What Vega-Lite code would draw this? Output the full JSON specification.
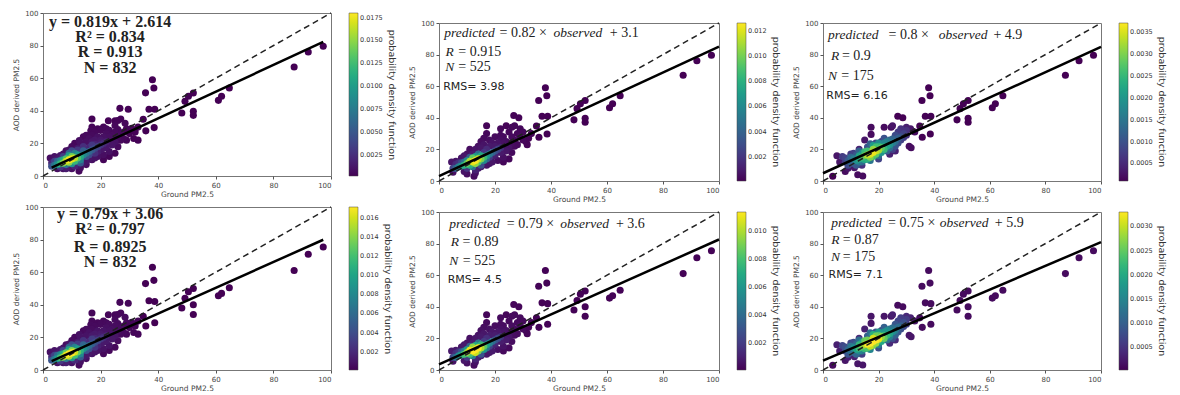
{
 "$schema": "https://vega.github.io/schema/vega-lite/v6.json",
 "padding": {"left": 12, "top": 8, "right": 0, "bottom": 0},
 "background": "white",
 "config": {
  "view": {"stroke": "#777", "strokeWidth": 1},
  "axis": {"grid": false, "domain": false, "tickSize": 3, "tickColor": "#555", "labelFont": "DejaVu Sans", "labelFontSize": 7, "labelColor": "#444", "labelPadding": 2, "titleFont": "DejaVu Sans", "titleFontSize": 7.5, "titleFontWeight": "normal", "titleColor": "#444", "titlePadding": 4},
  "axisX": {"titlePadding": 2},
  "legend": {"gradientThickness": 9, "offset": 18, "labelFont": "DejaVu Sans", "labelFontSize": 6.5, "labelColor": "#333", "labelOverlap": false, "titleFont": "DejaVu Sans", "titleFontSize": 9.5, "titleFontWeight": "normal", "titleColor": "#333", "titleOrient": "right", "titleAngle": 270, "titleAnchor": "middle", "titlePadding": 4, "gradientStrokeColor": "#444", "gradientStrokeWidth": 0.5}
 },
 "datasets": {
  "c1": [
   {"x":9,"y":10,"d":0.0178},{"x":10,"y":10.5,"d":0.0172},{"x":8,"y":9,"d":0.0165},{"x":11,"y":11,"d":0.016},{"x":9,"y":8.5,"d":0.015},{"x":7,"y":8,"d":0.0145},{"x":10,"y":12,"d":0.014},{"x":12,"y":11,"d":0.013},{"x":8,"y":10.5,"d":0.013},{"x":11,"y":9,"d":0.012},{"x":6,"y":7.5,"d":0.012},{"x":13,"y":12,"d":0.011},{"x":7,"y":10,"d":0.0105},{"x":9,"y":12.5,"d":0.01},{"x":12,"y":13,"d":0.0095},{"x":5,"y":7,"d":0.009},{"x":10,"y":7.5,"d":0.009},{"x":14,"y":13,"d":0.0085},{"x":6,"y":9.5,"d":0.008},{"x":13,"y":10,"d":0.008},{"x":11,"y":14,"d":0.0075},{"x":15,"y":14,"d":0.007},{"x":4,"y":6.5,"d":0.007},{"x":8,"y":7,"d":0.007},{"x":12,"y":9,"d":0.0065},{"x":16,"y":15,"d":0.006},{"x":5,"y":9,"d":0.006},{"x":14,"y":15.5,"d":0.0055},{"x":9,"y":14,"d":0.0055},{"x":13,"y":8,"d":0.005},{"x":17,"y":16,"d":0.005},{"x":3,"y":6,"d":0.0045},{"x":15,"y":12,"d":0.0045},{"x":18,"y":17,"d":0.004},{"x":10,"y":15.5,"d":0.004},{"x":16,"y":13,"d":0.004},{"x":4,"y":9,"d":0.0035},{"x":19,"y":18,"d":0.0035},{"x":7,"y":12,"d":0.0035},{"x":12,"y":16,"d":0.003},{"x":17,"y":19,"d":0.003},{"x":20,"y":19,"d":0.0028},{"x":6,"y":5.5,"d":0.0028},{"x":18,"y":14,"d":0.0025},{"x":14,"y":18,"d":0.0025},{"x":21,"y":20,"d":0.0022},{"x":3,"y":8,"d":0.002},{"x":11,"y":6,"d":0.002},{"x":16,"y":17.5,"d":0.002},{"x":22,"y":21,"d":0.0018},{"x":8,"y":4.5,"d":0.0015},{"x":19,"y":15,"d":0.0015},{"x":13,"y":16,"d":0.0025},{"x":18,"y":19.5,"d":0.0018},{"x":20,"y":20.5,"d":0.0015},{"x":5,"y":10,"d":0.0015},
   {"x":2.5,"y":11,"d":0.0008},{"x":4,"y":12,"d":0.001},{"x":6,"y":12.5,"d":0.0012},{"x":5,"y":4.5,"d":0.0008},{"x":10,"y":4.5,"d":0.0008},{"x":12.5,"y":3,"d":0.0005},{"x":13,"y":5,"d":0.0008},{"x":12,"y":17,"d":0.0012},{"x":9,"y":16,"d":0.001},{"x":13,"y":20,"d":0.0009},{"x":12.6,"y":21.7,"d":0.0008},{"x":15,"y":25,"d":0.0006},{"x":16.6,"y":27.8,"d":0.0005},{"x":17,"y":30,"d":0.0004},{"x":17,"y":35,"d":0.0003},{"x":18,"y":22,"d":0.0012},{"x":19,"y":24,"d":0.0009},{"x":20,"y":22,"d":0.0012},{"x":21,"y":24,"d":0.0009},{"x":22,"y":26,"d":0.0007},{"x":23,"y":28,"d":0.0006},{"x":24,"y":22,"d":0.0009},{"x":20,"y":16,"d":0.0012},{"x":18,"y":11,"d":0.001},{"x":21,"y":13,"d":0.0008},{"x":23,"y":15,"d":0.0009},{"x":24,"y":19,"d":0.0011},{"x":25,"y":21,"d":0.001},{"x":26,"y":24,"d":0.0007},{"x":25,"y":14,"d":0.0004},{"x":27,"y":26,"d":0.0006},{"x":28.5,"y":32.4,"d":0.0005},{"x":29,"y":29,"d":0.0004},{"x":27,"y":35,"d":0.0004},{"x":26.7,"y":41.5,"d":0.0003},{"x":29.6,"y":41,"d":0.0003},{"x":26,"y":34,"d":0.0004},{"x":25,"y":31,"d":0.0005},{"x":30.8,"y":29.3,"d":0.0004},{"x":31.5,"y":23,"d":0.0003},{"x":33,"y":22,"d":0.0003},{"x":33,"y":30,"d":0.0003},{"x":22.7,"y":33.9,"d":0.0003},{"x":25,"y":33.9,"d":0.0003},{"x":20,"y":28,"d":0.0005},{"x":15,"y":9,"d":0.0012},{"x":17,"y":10,"d":0.0009},{"x":26,"y":18,"d":0.0006},{"x":28,"y":23,"d":0.0005},{"x":29,"y":22,"d":0.0004},
   {"x":7,"y":13.5,"d":0.0009},{"x":8,"y":15.5,"d":0.0007},{"x":10,"y":18,"d":0.0006},{"x":11,"y":20,"d":0.0005},{"x":14,"y":24,"d":0.0005},{"x":15,"y":21,"d":0.0009},{"x":16,"y":23,"d":0.0008},{"x":17,"y":25,"d":0.0006},{"x":18,"y":27,"d":0.0005},{"x":19,"y":29,"d":0.0004},{"x":21,"y":30,"d":0.0004},{"x":22,"y":29,"d":0.0005},{"x":23,"y":24,"d":0.0008},{"x":22,"y":18,"d":0.0012},{"x":19,"y":12,"d":0.0009},{"x":16,"y":10.5,"d":0.0011},{"x":14,"y":8,"d":0.0012},{"x":12,"y":6.5,"d":0.0012},{"x":15,"y":7,"d":0.0007},{"x":9,"y":5.5,"d":0.0012},{"x":7,"y":4.5,"d":0.0009},{"x":24,"y":25,"d":0.0007},{"x":25,"y":27,"d":0.0006},{"x":26,"y":28.5,"d":0.0005},{"x":27,"y":22,"d":0.0005},{"x":28,"y":27,"d":0.0004},{"x":30,"y":26,"d":0.0003},{"x":32,"y":27,"d":0.0003},{"x":23,"y":12,"d":0.0004},{"x":21,"y":10,"d":0.0004},{"x":17,"y":21,"d":0.0012},{"x":21,"y":17,"d":0.0012}
  ],
  "c2": [
   {"x":13,"y":13,"d":0.0125},{"x":12,"y":12,"d":0.012},{"x":14,"y":14,"d":0.0115},{"x":11,"y":12.5,"d":0.011},{"x":13,"y":11,"d":0.0105},{"x":15,"y":14,"d":0.01},{"x":10,"y":11,"d":0.0095},{"x":12,"y":14.5,"d":0.0095},{"x":14,"y":12,"d":0.009},{"x":16,"y":15,"d":0.0085},{"x":9,"y":10,"d":0.008},{"x":11,"y":10,"d":0.008},{"x":15,"y":16,"d":0.0075},{"x":13,"y":15.5,"d":0.007},{"x":17,"y":16,"d":0.0065},{"x":8,"y":9.5,"d":0.0065},{"x":10,"y":13,"d":0.006},{"x":16,"y":13,"d":0.006},{"x":7,"y":9,"d":0.0055},{"x":18,"y":17,"d":0.005},{"x":12,"y":9,"d":0.005},{"x":14,"y":17,"d":0.0045},{"x":9,"y":12,"d":0.0045},{"x":19,"y":18,"d":0.004},{"x":6,"y":8,"d":0.004},{"x":17,"y":14,"d":0.004},{"x":11,"y":15,"d":0.0035},{"x":20,"y":19,"d":0.003},{"x":8,"y":11.5,"d":0.003},{"x":15,"y":10,"d":0.003},{"x":5,"y":8,"d":0.0025},{"x":21,"y":20,"d":0.0025},{"x":18,"y":15,"d":0.0022},{"x":16,"y":18,"d":0.002},{"x":10,"y":8,"d":0.002},{"x":22,"y":21,"d":0.0018},{"x":6,"y":10.5,"d":0.0015},{"x":13,"y":7,"d":0.0012},{"x":19,"y":16,"d":0.0012},{"x":17,"y":20,"d":0.0015},{"x":20,"y":17,"d":0.0012},{"x":7,"y":11.5,"d":0.0018},
   {"x":4.5,"y":12,"d":0.0008},{"x":6,"y":12.5,"d":0.0008},{"x":5,"y":5.5,"d":0.0006},{"x":10,"y":4.5,"d":0.0005},{"x":12.5,"y":3,"d":0.0004},{"x":13,"y":5,"d":0.0006},{"x":12,"y":17,"d":0.0009},{"x":9,"y":16,"d":0.0008},{"x":13,"y":20,"d":0.0007},{"x":14,"y":22,"d":0.0006},{"x":15,"y":25,"d":0.0005},{"x":16,"y":27,"d":0.0004},{"x":17,"y":30,"d":0.0003},{"x":17,"y":35,"d":0.0002},{"x":18,"y":22,"d":0.0009},{"x":19,"y":24,"d":0.0007},{"x":20,"y":22,"d":0.0009},{"x":21,"y":24,"d":0.0007},{"x":22,"y":26,"d":0.0005},{"x":23,"y":28,"d":0.0004},{"x":24,"y":22,"d":0.0007},{"x":20,"y":16,"d":0.0009},{"x":18,"y":11,"d":0.0007},{"x":21,"y":13,"d":0.0005},{"x":23,"y":15,"d":0.0006},{"x":24,"y":19,"d":0.0008},{"x":25,"y":21,"d":0.0007},{"x":26,"y":24,"d":0.0005},{"x":25,"y":14,"d":0.0003},{"x":27,"y":26,"d":0.0004},{"x":28,"y":30,"d":0.0003},{"x":29,"y":33,"d":0.0003},{"x":27,"y":35,"d":0.0003},{"x":26.7,"y":41.5,"d":0.0002},{"x":28.5,"y":40,"d":0.0002},{"x":26,"y":34,"d":0.0003},{"x":25,"y":31,"d":0.0003},{"x":30,"y":31,"d":0.0003},{"x":29,"y":28,"d":0.0004},{"x":31,"y":25,"d":0.0002},{"x":31.5,"y":23,"d":0.0002},{"x":33,"y":30,"d":0.0002},{"x":24,"y":35,"d":0.0002},{"x":22,"y":33,"d":0.0003},{"x":20,"y":28,"d":0.0004},{"x":15,"y":9,"d":0.001},{"x":17,"y":10,"d":0.0007},{"x":26,"y":18,"d":0.0004},{"x":28,"y":23,"d":0.0004},
   {"x":8,"y":14.5,"d":0.0007},{"x":10,"y":17,"d":0.0006},{"x":11,"y":20,"d":0.0005},{"x":15,"y":21,"d":0.0008},{"x":16,"y":23,"d":0.0007},{"x":18,"y":26,"d":0.0005},{"x":22,"y":29,"d":0.0004},{"x":23,"y":24,"d":0.0006},{"x":22,"y":18,"d":0.0009},{"x":19,"y":12,"d":0.0008},{"x":14,"y":8,"d":0.0009},{"x":9,"y":6,"d":0.0007},{"x":24,"y":25,"d":0.0005},{"x":26,"y":28,"d":0.0004},{"x":27,"y":22,"d":0.0004},{"x":30,"y":26,"d":0.0003},{"x":32,"y":27,"d":0.0002},{"x":23,"y":12,"d":0.0003}
  ],
  "c3": [
   {"x":18,"y":18,"d":0.0036},{"x":17,"y":17,"d":0.0035},{"x":19,"y":19,"d":0.0034},{"x":16,"y":16.5,"d":0.0033},{"x":20,"y":19.5,"d":0.0032},{"x":18,"y":20,"d":0.0031},{"x":17,"y":15,"d":0.003},{"x":15,"y":16,"d":0.0029},{"x":21,"y":21,"d":0.0028},{"x":19,"y":17,"d":0.0028},{"x":14,"y":15,"d":0.0026},{"x":16,"y":19,"d":0.0026},{"x":22,"y":20,"d":0.0025},{"x":20,"y":22,"d":0.0024},{"x":13,"y":14,"d":0.0023},{"x":15,"y":13.5,"d":0.0022},{"x":23,"y":22,"d":0.0022},{"x":18,"y":22.5,"d":0.0021},{"x":21,"y":18,"d":0.002},{"x":12,"y":13,"d":0.0019},{"x":24,"y":23,"d":0.0019},{"x":14,"y":17.5,"d":0.0018},{"x":22,"y":24,"d":0.0017},{"x":11,"y":14,"d":0.0016},{"x":25,"y":24,"d":0.0016},{"x":17,"y":13,"d":0.0015},{"x":13,"y":12,"d":0.0015},{"x":26,"y":25,"d":0.0014},{"x":20,"y":16,"d":0.0014},{"x":10,"y":15,"d":0.0013},{"x":24,"y":26,"d":0.0013},{"x":27,"y":27,"d":0.0012},{"x":23,"y":19,"d":0.0012},{"x":9,"y":13,"d":0.0011},{"x":12,"y":16.5,"d":0.0011},{"x":28,"y":28,"d":0.001},{"x":16,"y":21.5,"d":0.001},{"x":11,"y":11,"d":0.001},{"x":26,"y":29,"d":0.0009},{"x":19,"y":24,"d":0.0009},{"x":8,"y":14.5,"d":0.0008},{"x":29,"y":30,"d":0.0008},{"x":25,"y":20,"d":0.0008},{"x":10,"y":17,"d":0.0007},{"x":7,"y":15.5,"d":0.0007},{"x":27,"y":31,"d":0.0007},{"x":30,"y":32,"d":0.0006},{"x":28,"y":33,"d":0.0006},{"x":21,"y":25,"d":0.0006},{"x":14,"y":10,"d":0.0006},
   {"x":9,"y":10,"d":0.0009},{"x":10,"y":12,"d":0.0012},{"x":12,"y":10,"d":0.0011},{"x":13,"y":16,"d":0.0022},{"x":15,"y":18.5,"d":0.0025},{"x":16,"y":14,"d":0.0024},{"x":18,"y":15.5,"d":0.0026},{"x":19,"y":21.5,"d":0.0026},{"x":20,"y":24,"d":0.0018},{"x":22,"y":22,"d":0.0022},{"x":23,"y":25,"d":0.0016},{"x":24,"y":21,"d":0.0014},{"x":25,"y":26.5,"d":0.0012},{"x":26,"y":22,"d":0.001},{"x":27,"y":24,"d":0.0009},{"x":28,"y":26,"d":0.0008},{"x":29,"y":27.5,"d":0.0007},{"x":30,"y":29,"d":0.0006},{"x":11,"y":17.5,"d":0.0008},{"x":8,"y":12,"d":0.0007},{"x":13,"y":19,"d":0.0012},{"x":17,"y":23.5,"d":0.0012},{"x":22,"y":27,"d":0.001},{"x":14,"y":12,"d":0.0013},{"x":20,"y":14,"d":0.0008},
   {"x":3.5,"y":3,"d":0.0001},{"x":8,"y":6,"d":0.0002},{"x":9,"y":8,"d":0.0003},{"x":11.3,"y":8.4,"d":0.0003},{"x":12.5,"y":4,"d":0.0002},{"x":14.3,"y":3.2,"d":0.0002},{"x":15,"y":26,"d":0.0003},{"x":17.3,"y":29.5,"d":0.0002},{"x":17.3,"y":34,"d":0.0002},{"x":22,"y":34,"d":0.0002},{"x":24.5,"y":34,"d":0.0002},{"x":26.9,"y":41,"d":0.0001},{"x":28.7,"y":40,"d":0.0001},{"x":31,"y":22,"d":0.0002},{"x":31.7,"y":21,"d":0.0002},{"x":25,"y":35,"d":0.0003},{"x":30,"y":34,"d":0.0004},{"x":31.5,"y":33,"d":0.0003},{"x":33,"y":31,"d":0.0002},{"x":24,"y":17,"d":0.0004},{"x":26,"y":19,"d":0.0004},{"x":13,"y":20,"d":0.0004},{"x":6,"y":12,"d":0.0003},{"x":5,"y":16,"d":0.0003}
  ],
  "oA": [
   {"x":35.7,"y":27.7,"d":0.0001},{"x":36.8,"y":41,"d":0.0001},{"x":38.8,"y":41,"d":0.0001},{"x":38.6,"y":29.7,"d":0.0001},{"x":34.8,"y":34.8,"d":0.0001},{"x":38,"y":59,"d":0.0001},{"x":38.5,"y":54,"d":0.0001},{"x":35.6,"y":51,"d":0.0001},{"x":48.2,"y":38.7,"d":0.0001},{"x":49.3,"y":45.8,"d":0.0001},{"x":50.5,"y":48.9,"d":0.0001},{"x":52.2,"y":50.9,"d":0.0001},{"x":52.2,"y":39.7,"d":0.0001},{"x":52.2,"y":37.2,"d":0.0001},{"x":60.9,"y":46.4,"d":0.0001},{"x":62,"y":48.9,"d":0.0001},{"x":64.7,"y":54,"d":0.0001},{"x":87.2,"y":66.9,"d":0.0001},{"x":92.1,"y":76.1,"d":0.0001},{"x":97.3,"y":79.6,"d":0.0001}
  ],
  "oB": [
   {"x":35.7,"y":27,"d":0.0001},{"x":36.8,"y":42.5,"d":0.0001},{"x":38.8,"y":42,"d":0.0001},{"x":38.8,"y":29,"d":0.0001},{"x":34.8,"y":33,"d":0.0001},{"x":38,"y":63,"d":0.0001},{"x":38.5,"y":55,"d":0.0001},{"x":35.6,"y":53,"d":0.0001},{"x":48.2,"y":38,"d":0.0001},{"x":49.3,"y":44,"d":0.0001},{"x":50.5,"y":48,"d":0.0001},{"x":52.2,"y":50,"d":0.0001},{"x":52.2,"y":40,"d":0.0001},{"x":52.2,"y":34,"d":0.0001},{"x":60.9,"y":45.5,"d":0.0001},{"x":62,"y":47,"d":0.0001},{"x":64.7,"y":50.5,"d":0.0001},{"x":87.2,"y":61,"d":0.0001},{"x":92.1,"y":71,"d":0.0001},{"x":97.3,"y":75.5,"d":0.0001}
  ],
  "one2one": [{"x":0,"y":0},{"x":100,"y":100}]
 },
 "spacing": 10,
 "resolve": {"scale": {"color": "independent"}, "legend": {"color": "independent"}},
 "hconcat": [
  {
   "spacing": 31, "bounds": "flush",
   "resolve": {"scale": {"color": "independent"}, "legend": {"color": "independent"}},
   "vconcat": [
    {
     "width": 288, "height": 163,
     "encoding": {
      "x": {"field": "x", "type": "quantitative", "scale": {"domain": [0,100], "nice": false}, "axis": {"values": [0,20,40,60,80,100], "title": "Ground PM2.5"}},
      "y": {"field": "y", "type": "quantitative", "scale": {"domain": [0,100], "nice": false}, "axis": {"values": [0,20,40,60,80,100], "title": "AOD derived PM2.5"}}
     },
     "layer": [
      {"data": {"name": "oA"}, "mark": {"type": "circle", "size": 50, "opacity": 1}, "encoding": {"color": {"field": "d", "type": "quantitative", "scale": {"scheme": "viridis", "domain": [0.0002, 0.018], "clamp": true}, "legend": {"title": "probability density function", "values": [0.0025,0.005,0.0075,0.01,0.0125,0.015,0.0175], "format": ".4f", "gradientLength": 163}}}},
      {"data": {"name": "c1"}, "mark": {"type": "circle", "size": 50, "opacity": 1}, "encoding": {"color": {"field": "d", "type": "quantitative"}, "order": {"field": "d", "type": "quantitative"}}},
      {"data": {"name": "one2one"}, "mark": {"type": "line", "color": "#222", "strokeWidth": 1.5, "strokeDash": [6,4]}, "encoding": {}},
      {"data": {"values": [{"x":3,"y":5.07},{"x":97.3,"y":82.3}]}, "mark": {"type": "line", "color": "#000", "strokeWidth": 2.5}, "encoding": {}},
      {"data": {"values": [{"t":"y = 0.819x + 2.614","x":23.3,"y":94.7},{"t":"R² = 0.834","x":23.3,"y":85.5},{"t":"R = 0.913","x":23.3,"y":75.9},{"t":"N = 832","x":23.3,"y":66.1}]}, "mark": {"type": "text", "font": "Liberation Serif", "fontWeight": "bold", "fontSize": 16, "align": "center", "baseline": "middle", "color": "#222"}, "encoding": {"text": {"field": "t", "type": "nominal"}}}
     ]
    },
    {
     "width": 288, "height": 163,
     "encoding": {
      "x": {"field": "x", "type": "quantitative", "scale": {"domain": [0,100], "nice": false}, "axis": {"values": [0,20,40,60,80,100], "title": "Ground PM2.5"}},
      "y": {"field": "y", "type": "quantitative", "scale": {"domain": [0,100], "nice": false}, "axis": {"values": [0,20,40,60,80,100], "title": "AOD derived PM2.5"}}
     },
     "layer": [
      {"data": {"name": "oB"}, "mark": {"type": "circle", "size": 50, "opacity": 1}, "encoding": {"color": {"field": "d", "type": "quantitative", "scale": {"scheme": "viridis", "domain": [0.0001, 0.0171], "clamp": true}, "legend": {"title": "probability density function", "values": [0.002,0.004,0.006,0.008,0.01,0.012,0.014,0.016], "format": ".3f", "gradientLength": 163}}}},
      {"data": {"name": "c1"}, "mark": {"type": "circle", "size": 50, "opacity": 1}, "encoding": {"color": {"field": "d", "type": "quantitative"}, "order": {"field": "d", "type": "quantitative"}}},
      {"data": {"name": "one2one"}, "mark": {"type": "line", "color": "#222", "strokeWidth": 1.5, "strokeDash": [6,4]}, "encoding": {}},
      {"data": {"values": [{"x":3,"y":5.43},{"x":97.3,"y":79.9}]}, "mark": {"type": "line", "color": "#000", "strokeWidth": 2.5}, "encoding": {}},
      {"data": {"values": [{"t":"y = 0.79x + 3.06","x":23.3,"y":95.7},{"t":"R² = 0.797","x":23.3,"y":86.5},{"t":"R = 0.8925","x":23.3,"y":75.7},{"t":"N = 832","x":23.3,"y":66.1}]}, "mark": {"type": "text", "font": "Liberation Serif", "fontWeight": "bold", "fontSize": 16, "align": "center", "baseline": "middle", "color": "#222"}, "encoding": {"text": {"field": "t", "type": "nominal"}}}
     ]
    }
   ]
  },
  {
   "spacing": 4,
   "resolve": {"scale": {"color": "independent"}, "legend": {"color": "independent"}},
   "vconcat": [
    {"width": 1, "height": 1, "view": {"stroke": null}, "data": {"values": []}, "mark": "point", "encoding": {}},
    {
     "spacing": 31, "bounds": "flush",
     "resolve": {"scale": {"color": "independent"}, "legend": {"color": "independent"}},
     "vconcat": [
      {
       "width": 280, "height": 158,
       "encoding": {
        "x": {"field": "x", "type": "quantitative", "scale": {"domain": [0,100], "nice": false}, "axis": {"values": [0,20,40,60,80,100], "title": "Ground PM2.5"}},
        "y": {"field": "y", "type": "quantitative", "scale": {"domain": [0,100], "nice": false}, "axis": {"values": [0,20,40,60,80,100], "title": "AOD derived PM2.5"}}
       },
       "layer": [
        {"data": {"name": "oA"}, "mark": {"type": "circle", "size": 50, "opacity": 1}, "encoding": {"color": {"field": "d", "type": "quantitative", "scale": {"scheme": "viridis", "domain": [0.0001, 0.0126], "clamp": true}, "legend": {"title": "probability density function", "values": [0.002,0.004,0.006,0.008,0.01,0.012], "format": ".3f", "gradientLength": 158}}}},
        {"data": {"name": "c2"}, "mark": {"type": "circle", "size": 50, "opacity": 1}, "encoding": {"color": {"field": "d", "type": "quantitative"}, "order": {"field": "d", "type": "quantitative"}}},
        {"data": {"name": "one2one"}, "mark": {"type": "line", "color": "#222", "strokeWidth": 1.5, "strokeDash": [6,4]}, "encoding": {}},
        {"data": {"values": [{"x":0,"y":3.1},{"x":100,"y":85.1}]}, "mark": {"type": "line", "color": "#000", "strokeWidth": 2.5}, "encoding": {}},
        {"data": {"values": [{"t":"predicted","x":1.9,"y":93.8},{"t":"observed","x":40.9,"y":93.8},{"t":"R","x":2.3,"y":81.5},{"t":"N","x":2.2,"y":72}]}, "mark": {"type": "text", "font": "Liberation Serif", "fontStyle": "italic", "fontSize": 13.5, "align": "left", "baseline": "middle", "color": "#222"}, "encoding": {"text": {"field": "t", "type": "nominal"}}},
        {"data": {"values": [{"t":"= 0.82 ×","x":21.6,"y":93.8},{"t":"+ 3.1","x":61,"y":93.8},{"t":"= 0.915","x":6.9,"y":81.5},{"t":"= 525","x":6.9,"y":72}]}, "mark": {"type": "text", "font": "Liberation Serif", "fontSize": 14, "align": "left", "baseline": "middle", "color": "#222"}, "encoding": {"text": {"field": "t", "type": "nominal"}}},
        {"data": {"values": [{"t":"RMS= 3.98","x":1.5,"y":59.2}]}, "mark": {"type": "text", "font": "DejaVu Sans", "fontSize": 11, "align": "left", "baseline": "middle", "color": "#222"}, "encoding": {"text": {"field": "t", "type": "nominal"}}}
       ]
      },
      {
       "width": 280, "height": 158,
       "encoding": {
        "x": {"field": "x", "type": "quantitative", "scale": {"domain": [0,100], "nice": false}, "axis": {"values": [0,20,40,60,80,100], "title": "Ground PM2.5"}},
        "y": {"field": "y", "type": "quantitative", "scale": {"domain": [0,100], "nice": false}, "axis": {"values": [0,20,40,60,80,100], "title": "AOD derived PM2.5"}}
       },
       "layer": [
        {"data": {"name": "oB"}, "mark": {"type": "circle", "size": 50, "opacity": 1}, "encoding": {"color": {"field": "d", "type": "quantitative", "scale": {"scheme": "viridis", "domain": [0.00005, 0.0114], "clamp": true}, "legend": {"title": "probability density function", "values": [0.002,0.004,0.006,0.008,0.01], "format": ".3f", "gradientLength": 158}}}},
        {"data": {"name": "c2"}, "mark": {"type": "circle", "size": 50, "opacity": 1}, "encoding": {"color": {"field": "d", "type": "quantitative"}, "order": {"field": "d", "type": "quantitative"}}},
        {"data": {"name": "one2one"}, "mark": {"type": "line", "color": "#222", "strokeWidth": 1.5, "strokeDash": [6,4]}, "encoding": {}},
        {"data": {"values": [{"x":0,"y":3.6},{"x":100,"y":82.6}]}, "mark": {"type": "line", "color": "#000", "strokeWidth": 2.5}, "encoding": {}},
        {"data": {"values": [{"t":"predicted","x":3.7,"y":92.1},{"t":"observed","x":43.3,"y":92.1},{"t":"R","x":4.2,"y":81.1},{"t":"N","x":3.7,"y":69.2}]}, "mark": {"type": "text", "font": "Liberation Serif", "fontStyle": "italic", "fontSize": 13.5, "align": "left", "baseline": "middle", "color": "#222"}, "encoding": {"text": {"field": "t", "type": "nominal"}}},
        {"data": {"values": [{"t":"= 0.79 ×","x":24.2,"y":92.1},{"t":"+ 3.6","x":63.2,"y":92.1},{"t":"= 0.89","x":8.4,"y":81.1},{"t":"= 525","x":8.5,"y":69.2}]}, "mark": {"type": "text", "font": "Liberation Serif", "fontSize": 14, "align": "left", "baseline": "middle", "color": "#222"}, "encoding": {"text": {"field": "t", "type": "nominal"}}},
        {"data": {"values": [{"t":"RMS= 4.5","x":3.1,"y":56.7}]}, "mark": {"type": "text", "font": "DejaVu Sans", "fontSize": 11, "align": "left", "baseline": "middle", "color": "#222"}, "encoding": {"text": {"field": "t", "type": "nominal"}}}
       ]
      }
     ]
    }
   ]
  },
  {
   "spacing": 4,
   "resolve": {"scale": {"color": "independent"}, "legend": {"color": "independent"}},
   "vconcat": [
    {"width": 1, "height": 1, "view": {"stroke": null}, "data": {"values": []}, "mark": "point", "encoding": {}},
    {
     "spacing": 31, "bounds": "flush",
     "resolve": {"scale": {"color": "independent"}, "legend": {"color": "independent"}},
     "vconcat": [
      {
       "width": 278, "height": 158,
       "encoding": {
        "x": {"field": "x", "type": "quantitative", "scale": {"domain": [0,100], "nice": false}, "axis": {"values": [0,20,40,60,80,100], "title": "Ground PM2.5"}},
        "y": {"field": "y", "type": "quantitative", "scale": {"domain": [0,100], "nice": false}, "axis": {"values": [0,20,40,60,80,100], "title": "AOD derived PM2.5"}}
       },
       "layer": [
        {"data": {"name": "oA"}, "mark": {"type": "circle", "size": 50, "opacity": 1}, "encoding": {"color": {"field": "d", "type": "quantitative", "scale": {"scheme": "viridis", "domain": [0.0001, 0.0037], "clamp": true}, "legend": {"title": "probability density function", "values": [0.0005,0.001,0.0015,0.002,0.0025,0.003,0.0035], "format": ".4f", "gradientLength": 158}}}},
        {"data": {"name": "c3"}, "mark": {"type": "circle", "size": 50, "opacity": 1}, "encoding": {"color": {"field": "d", "type": "quantitative"}, "order": {"field": "d", "type": "quantitative"}}},
        {"data": {"name": "one2one"}, "mark": {"type": "line", "color": "#222", "strokeWidth": 1.5, "strokeDash": [6,4]}, "encoding": {}},
        {"data": {"values": [{"x":0,"y":4.9},{"x":100,"y":84.9}]}, "mark": {"type": "line", "color": "#000", "strokeWidth": 2.5}, "encoding": {}},
        {"data": {"values": [{"t":"predicted","x":1.8,"y":92.2},{"t":"observed","x":41.6,"y":92.2},{"t":"R","x":2.9,"y":79.4},{"t":"N","x":1.8,"y":66.7}]}, "mark": {"type": "text", "font": "Liberation Serif", "fontStyle": "italic", "fontSize": 13.5, "align": "left", "baseline": "middle", "color": "#222"}, "encoding": {"text": {"field": "t", "type": "nominal"}}},
        {"data": {"values": [{"t":"= 0.8 ×","x":23.6,"y":92.2},{"t":"+ 4.9","x":61.3,"y":92.2},{"t":"= 0.9","x":6.8,"y":79.4},{"t":"= 175","x":6.6,"y":66.7}]}, "mark": {"type": "text", "font": "Liberation Serif", "fontSize": 14, "align": "left", "baseline": "middle", "color": "#222"}, "encoding": {"text": {"field": "t", "type": "nominal"}}},
        {"data": {"values": [{"t":"RMS= 6.16","x":1.2,"y":53.5}]}, "mark": {"type": "text", "font": "DejaVu Sans", "fontSize": 11, "align": "left", "baseline": "middle", "color": "#222"}, "encoding": {"text": {"field": "t", "type": "nominal"}}}
       ]
      },
      {
       "width": 278, "height": 158,
       "encoding": {
        "x": {"field": "x", "type": "quantitative", "scale": {"domain": [0,100], "nice": false}, "axis": {"values": [0,20,40,60,80,100], "title": "Ground PM2.5"}},
        "y": {"field": "y", "type": "quantitative", "scale": {"domain": [0,100], "nice": false}, "axis": {"values": [0,20,40,60,80,100], "title": "AOD derived PM2.5"}}
       },
       "layer": [
        {"data": {"name": "oB"}, "mark": {"type": "circle", "size": 50, "opacity": 1}, "encoding": {"color": {"field": "d", "type": "quantitative", "scale": {"scheme": "viridis", "domain": [0.00002, 0.0033], "clamp": true}, "legend": {"title": "probability density function", "values": [0.0005,0.001,0.0015,0.002,0.0025,0.003], "format": ".4f", "gradientLength": 158}}}},
        {"data": {"name": "c3"}, "mark": {"type": "circle", "size": 50, "opacity": 1}, "encoding": {"color": {"field": "d", "type": "quantitative"}, "order": {"field": "d", "type": "quantitative"}}},
        {"data": {"name": "one2one"}, "mark": {"type": "line", "color": "#222", "strokeWidth": 1.5, "strokeDash": [6,4]}, "encoding": {}},
        {"data": {"values": [{"x":0,"y":5.9},{"x":100,"y":80.9}]}, "mark": {"type": "line", "color": "#000", "strokeWidth": 2.5}, "encoding": {}},
        {"data": {"values": [{"t":"predicted","x":3,"y":93.1},{"t":"observed","x":42,"y":93.1},{"t":"R","x":3,"y":82.1},{"t":"N","x":2.9,"y":71.3}]}, "mark": {"type": "text", "font": "Liberation Serif", "fontStyle": "italic", "fontSize": 13.5, "align": "left", "baseline": "middle", "color": "#222"}, "encoding": {"text": {"field": "t", "type": "nominal"}}},
        {"data": {"values": [{"t":"= 0.75 ×","x":23.4,"y":93.1},{"t":"+ 5.9","x":61.8,"y":93.1},{"t":"= 0.87","x":7.1,"y":82.1},{"t":"= 175","x":7.1,"y":71.3}]}, "mark": {"type": "text", "font": "Liberation Serif", "fontSize": 14, "align": "left", "baseline": "middle", "color": "#222"}, "encoding": {"text": {"field": "t", "type": "nominal"}}},
        {"data": {"values": [{"t":"RMS= 7.1","x":2,"y":60.4}]}, "mark": {"type": "text", "font": "DejaVu Sans", "fontSize": 11, "align": "left", "baseline": "middle", "color": "#222"}, "encoding": {"text": {"field": "t", "type": "nominal"}}}
       ]
      }
     ]
    }
   ]
  }
 ]
}
